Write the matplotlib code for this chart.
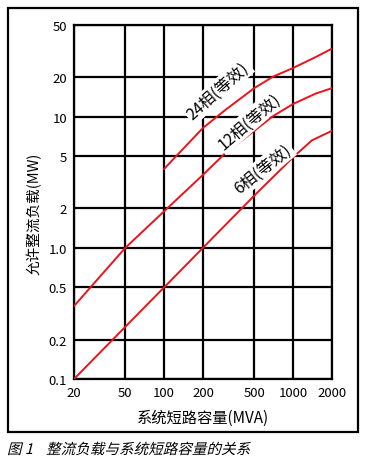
import matplotlib
matplotlib.use("Agg")
import matplotlib.pyplot as plt
from matplotlib.patches import Rectangle, PathPatch
from matplotlib.textpath import TextPath
from matplotlib.font_manager import FontProperties
from matplotlib.transforms import Affine2D

plt.rcParams['font.family'] = ['Noto Sans CJK SC', 'DejaVu Sans']

# system short-circuit capacity (MVA) vs allowed rectifier load (MW)
x6 = [20, 50, 100, 200, 500, 1000, 1400, 2000]
y6 = [0.1, 0.25, 0.5, 1.0, 2.5, 4.9, 6.6, 7.8]
x12 = [20, 50, 100, 200, 300, 500, 700, 1000, 1500, 2000]
y12 = [0.36, 1.0, 1.9, 3.6, 5.3, 7.8, 10.1, 12.5, 15.0, 16.5]
x24 = [100, 200, 300, 500, 700, 1000, 1500, 2000]
y24 = [4.0, 8.2, 11.3, 16.5, 20.2, 23.5, 28.5, 33.0]

xticks = [20, 50, 100, 200, 500, 1000, 2000]
yticks = [0.1, 0.2, 0.5, 1.0, 2, 5, 10, 20, 50]
ylabels = ['0.1', '0.2', '0.5', '1.0', '2', '5', '10', '20', '50']

fig = plt.figure(figsize=(3.7, 4.64), dpi=100)
ax = fig.add_axes([0.2, 0.181, 0.697, 0.763])

red = '#e8141c'
ax.plot(x6, y6, color=red, lw=1.4, zorder=3)
ax.plot(x12, y12, color=red, lw=1.4, zorder=3)
ax.plot(x24, y24, color=red, lw=1.4, zorder=3)

ax.set_xscale('log')
ax.set_yscale('log')
ax.set_xlim(20, 2000)
ax.set_ylim(0.1, 50)
ax.set_xticks(xticks)
ax.set_xticklabels([str(v) for v in xticks])
ax.set_yticks(yticks)
ax.set_yticklabels(ylabels)
ax.minorticks_off()
ax.tick_params(length=0, labelsize=9.5, pad=5)
ax.grid(True, color='black', lw=1.6)
for s in ax.spines.values():
    s.set_linewidth(1.6)

ax.set_xlabel('系统短路容量(MVA)', fontsize=11, labelpad=7)
ax.set_ylabel('允许整流负载(MW)', fontsize=10.5)
ax.yaxis.set_label_coords(-0.125, 0.47)

box = dict(facecolor='white', edgecolor='none', pad=1.5)
ax.text(262, 15.8, '24相(等效)', rotation=42, ha='center', va='center', fontsize=11.5, bbox=box, zorder=4)
ax.text(460, 9.3, '12相(等效)', rotation=41, ha='center', va='center', fontsize=11.5, bbox=box, zorder=4)
ax.text(580, 4.0, '6相(等效)', rotation=39, ha='center', va='center', fontsize=11.5, bbox=box, zorder=4)

# outer frame
fig.patches.append(Rectangle((0.0216, 0.0668), 0.946, 0.914, transform=fig.transFigure,
                             fill=False, edgecolor='black', lw=1.6))

# slanted caption
cap = TextPath((0, 0), '图 1    整流负载与系统短路容量的关系', size=10.5,
               prop=FontProperties(family='Noto Sans CJK SC'))
tr = Affine2D().skew_deg(14, 0).scale(1 / 72).translate(0.07, 0.09) + fig.dpi_scale_trans
fig.patches.append(PathPatch(cap, transform=tr, facecolor='black', edgecolor='none'))

fig.savefig('out.png', dpi=100)
